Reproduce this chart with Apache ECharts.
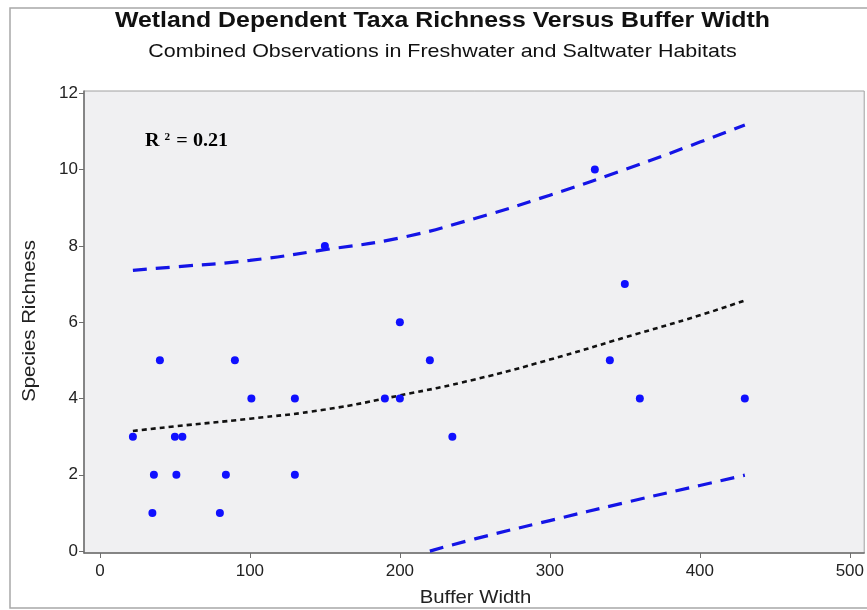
<!DOCTYPE html>
<html>
<head>
<meta charset="utf-8">
<script src="https://cdn.jsdelivr.net/npm/echarts@6/dist/echarts.min.js"></script>
<style>
html,body{margin:0;padding:0;background:#fff;}
#chart{width:867px;height:610px;}
</style>
</head>
<body>
<div id="chart"></div>
<script>
// ---- Data ----
const bufferWidth = [22, 36, 35, 40, 50, 55, 51, 80, 84, 90, 101, 130, 130, 150, 190, 200, 200, 220, 235, 330, 340, 350, 360, 430];
const richness    = [3,  2,  1,  5,  3,  3,  2,  1,  2,  5,  4,   4,   2,   8,   4,   4,   6,   5,   3,   10,  5,   7,   4,   4];

const fitX   = [22, 50, 100, 150, 200, 250, 300, 350, 400, 430];
const fitY   = [3.15, 3.27, 3.47, 3.71, 4.08, 4.5, 5.02, 5.6, 6.18, 6.57];
const upperX = [22, 50, 100, 150, 200, 250, 300, 350, 400, 430];
const upperY = [7.36, 7.45, 7.62, 7.9, 8.21, 8.72, 9.33, 10.0, 10.72, 11.17];
const lowerX = [220, 250, 300, 350, 400, 430];
const lowerY = [0.0, 0.32, 0.8, 1.27, 1.72, 1.99];

const xTicks = [0, 100, 200, 300, 400, 500];
const yTicks = [0, 2, 4, 6, 8, 10, 12];

const titleText = 'Wetland Dependent Taxa Richness Versus Buffer Width';
const subtitleText = 'Combined Observations in Freshwater and Saltwater Habitats';
const xName = 'Buffer Width';
const yName = 'Species Richness';
const r2Value = '0.21';

const zip = (a, b) => a.map((v, i) => [v, b[i]]);

const chart = echarts.init(document.getElementById('chart'), null, {renderer: 'canvas'});
const font = 'Liberation Sans, Arial, sans-serif';
const serif = 'Liberation Serif, Times New Roman, serif';
const axisColor = '#6e6e6e';

chart.setOption({
  animation: false,
  backgroundColor: '#ffffff',
  grid: {
    left: 84, top: 91, right: 0, bottom: 57,
    show: true, backgroundColor: '#f0f0f2', borderColor: '#a0a0a0', borderWidth: 1
  },
  xAxis: {
    type: 'value', min: -10.6, max: 509.6,
    axisLine: {show: true, onZero: false, lineStyle: {color: axisColor, width: 1.5}},
    axisTick: {show: true, length: 5, lineStyle: {color: axisColor}, customValues: xTicks},
    axisLabel: {fontFamily: font, fontSize: 17, color: '#222', margin: 10, customValues: xTicks},
    splitLine: {show: false}
  },
  yAxis: {
    type: 'value', min: -0.05, max: 12.06,
    axisLine: {show: true, onZero: false, lineStyle: {color: axisColor, width: 1.5}},
    axisTick: {show: true, length: 5, lineStyle: {color: axisColor}, customValues: yTicks},
    axisLabel: {fontFamily: font, fontSize: 17, color: '#222', margin: 6, customValues: yTicks},
    splitLine: {show: false}
  },
  graphic: [
    {type: 'rect', shape: {x: 10, y: 8, width: 900, height: 600}, style: {fill: 'none', stroke: '#a8a8a8', lineWidth: 1.5}, z: 100, silent: true},
    {type: 'text', x: 442.5, y: 21, scaleX: 1.13, style: {text: titleText, font: 'bold 22px ' + font, fill: '#111', textAlign: 'center', textVerticalAlign: 'middle'}},
    {type: 'text', x: 442.5, y: 52, scaleX: 1.13, style: {text: subtitleText, font: '19px ' + font, fill: '#111', textAlign: 'center', textVerticalAlign: 'middle'}},
    {type: 'text', x: 475.5, y: 598, scaleX: 1.1, style: {text: xName, font: '18.5px ' + font, fill: '#222', textAlign: 'center', textVerticalAlign: 'middle'}},
    {type: 'text', x: 30, y: 321, rotation: Math.PI / 2, scaleX: 1.1, style: {text: yName, font: '18.5px ' + font, fill: '#222', textAlign: 'center', textVerticalAlign: 'middle'}},
    {type: 'text', x: 145, y: 141, scaleX: 1.12, style: {
      text: '{a|R }{s|2}{a| = ' + r2Value + '}',
      textVerticalAlign: 'middle',
      rich: {
        a: {fontFamily: serif, fontWeight: 'bold', fontSize: 18, color: '#111'},
        s: {fontFamily: serif, fontWeight: 'bold', fontSize: 10, color: '#111', verticalAlign: 'top', padding: [0, 1, 8, 0]}
      }
    }, z: 50}
  ],
  series: [
    {type: 'line', data: zip(upperX, upperY), smooth: true, symbol: 'none', z: 2,
     lineStyle: {color: '#1414e6', width: 3.2, type: [14, 9]}},
    {type: 'line', data: zip(lowerX, lowerY), smooth: true, symbol: 'none', z: 2,
     lineStyle: {color: '#1414e6', width: 3.2, type: [14, 9]}},
    {type: 'line', data: zip(fitX, fitY), smooth: true, symbol: 'none', z: 2,
     lineStyle: {color: '#111111', width: 2.6, type: [5, 4]}},
    {type: 'scatter', data: zip(bufferWidth, richness), symbol: 'circle', symbolSize: 8, z: 5,
     itemStyle: {color: '#1010ff', opacity: 1}}
  ]
});
</script>
</body>
</html>
